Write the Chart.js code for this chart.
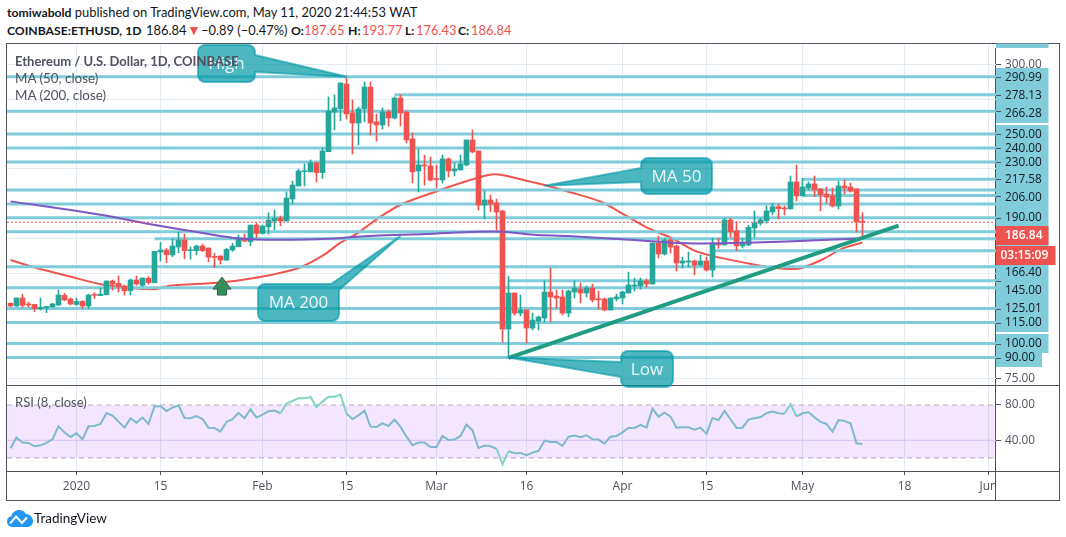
<!DOCTYPE html>
<html>
<head>
<meta charset="utf-8">
<title>ETHUSD</title>
<script src="https://cdn.jsdelivr.net/npm/chart.js@4"></script>
<style>
  html, body { margin: 0; padding: 0; background: #fff; width: 1066px; height: 537px; overflow: hidden; }
  body { position: relative; font-family: Lato, sans-serif; color: #50535e; }
  canvas { position: absolute; left: 0; }
  #rsiChart { top: 385px; }
  #priceChart { top: 0; }
  .t { position: absolute; white-space: nowrap; line-height: 16px; }
  .hd { font-size: 12.9px; color: #131722; }
  .hd b { font-size: 12.2px; }
  .red { color: #ef5350; }
  .line { position: absolute; background: #50535e; }
</style>
</head>
<body>
<div class="line" style="left:6px;top:43px;width:1054px;height:1px"></div>
<div class="line" style="left:6px;top:500px;width:1054px;height:1px"></div>
<div class="line" style="left:6px;top:43px;width:1px;height:458px"></div>
<div class="line" style="left:1059px;top:43px;width:1px;height:458px"></div>
<div class="line" style="left:995px;top:48px;width:1px;height:452px"></div>
<div class="line" style="left:6px;top:385px;width:1054px;height:1px"></div>
<div class="line" style="left:6px;top:471px;width:1054px;height:1px"></div>

<div class="t hd" style="left:7px;top:4px"><b>tomiwabold</b> published on TradingView.com, May 11, 2020 21:44:53 WAT</div>
<div class="t hd" style="left:7px;top:22px"><b>COINBASE:ETHUSD, 1D</b></div>
<div class="t hd" style="left:146px;top:22px">186.84</div>
<div class="t hd red" style="left:187px;top:22px;font-size:14px">▼</div>
<div class="t hd" style="left:201px;top:22px">−0.89 (−0.47%)</div>
<div class="t hd" style="left:291px;top:22px"><b>O:</b></div>
<div class="t hd red" style="left:304px;top:22px">187.65</div>
<div class="t hd" style="left:348px;top:22px"><b>H:</b></div>
<div class="t hd red" style="left:362px;top:22px">193.77</div>
<div class="t hd" style="left:405px;top:22px"><b>L:</b></div>
<div class="t hd red" style="left:416px;top:22px">176.43</div>
<div class="t hd" style="left:458px;top:22px"><b>C:</b></div>
<div class="t hd red" style="left:471px;top:22px">186.84</div>

<canvas id="rsiChart" width="1066" height="115"></canvas>
<canvas id="priceChart" width="1066" height="390"></canvas>

<div class="t" style="left:15px;top:53px;font-size:13px;font-weight:700">Ethereum / U.S. Dollar, 1D, COINBASE</div>
<div class="t" style="left:15px;top:70px;font-size:13.4px">MA (50, close)</div>
<div class="t" style="left:15px;top:87px;font-size:13.4px">MA (200, close)</div>
<div class="t" style="left:15px;top:394px;font-size:13px">RSI (8, close)</div>

<svg style="position:absolute;left:7px;top:510px" width="26" height="17" viewBox="0 0 26 17">
  <path d="M6 17 C2 17 0 14.5 0 11.5 C0 8.5 2 6.5 4.5 6 C5.5 2.5 8.5 0 12 0 C15 0 17.5 1.5 19 4 C23 4 26 7.5 26 11 C26 14.5 23.5 17 20 17 Z" fill="#2196f3"/>
  <path d="M3 13.5 L9 6.5 L15 13 L20 7.5" fill="none" stroke="#fff" stroke-width="2"/>
</svg>
<div class="t" style="left:34px;top:510px;font-size:13.5px;color:#131722">TradingView</div>

<script>
const xTickIndex = [11, 25, 42, 56, 71, 86, 102, 116, 132, 149, 163];
const xTickLabels = ['2020', '15', 'Feb', '15', 'Mar', '16', 'Apr', '15', 'May', '18', 'Jun'];

const open = [128.8,126.9,132.6,128.0,128.0,125.0,125.7,126.4,127.6,134.5,
  131.9,128.0,130.2,126.9,134.7,134.3,134.9,144.8,143.1,141.2,
  137.8,145.5,141.7,146.7,143.6,165.5,167.0,163.4,169.1,174.1,
  166.5,166.5,169.8,168.4,162.2,162.7,159.8,167.0,169.3,175.3,
  172.9,184.8,178.9,183.6,187.7,189.8,187.7,203.5,212.8,223.1,
  222.9,229.3,222.4,237.4,265.8,268.2,285.9,265.1,257.9,268.0,
  283.7,258.7,256.5,265.8,261.5,275.8,265.8,246.5,223.6,227.9,
  227.2,217.8,217.1,232.2,223.6,224.3,227.9,245.8,237.9,199.2,
  202.8,200.7,194.9,110.4,136.2,121.8,124.0,111.1,116.1,118.3,
  136.9,134.0,133.3,121.8,136.9,139.0,136.2,139.7,131.9,131.9,
  124.0,131.9,132.6,136.2,141.2,141.2,144.8,142.6,172.0,164.1,
  174.1,169.8,157.6,158.4,159.1,156.2,159.1,152.6,171.3,170.6,
  188.5,180.6,169.9,170.6,182.7,186.1,188.0,194.2,198.0,196.8,
  196.4,215.7,205.7,211.4,214.3,210.7,207.1,205.7,198.5,212.8,
  212.1,210.7,187.65];
const high = [129.2,132.8,135.4,129.7,128.0,132.6,126.6,128.8,138.3,135.9,
  132.6,132.6,130.7,135.4,136.4,139.7,144.8,145.5,148.3,141.9,
  146.2,148.3,146.9,147.9,166.0,172.4,168.1,174.8,179.8,178.4,
  169.3,170.5,171.3,168.4,164.6,162.7,168.1,171.7,177.7,178.4,
  184.8,186.0,184.8,193.7,195.6,191.3,208.5,216.4,225.0,228.6,
  231.5,230.0,240.0,276.6,278.0,286.6,290.2,274.4,269.4,287.3,
  287.3,264.4,268.7,267.3,276.6,278.0,266.5,250.8,239.3,235.0,
  233.6,227.9,235.0,232.9,229.3,235.0,245.8,252.9,237.9,209.2,
  206.4,203.5,195.6,148.3,136.2,134.7,124.0,121.8,119.7,144.8,
  154.0,138.3,138.3,138.3,144.8,143.3,141.2,142.6,137.6,132.6,
  132.6,135.4,137.6,151.2,146.9,146.9,146.2,172.0,177.0,175.3,
  175.5,170.5,161.9,165.5,159.8,163.4,161.9,175.5,175.3,189.7,
  189.7,187.3,175.3,184.7,194.9,189.9,198.5,200.4,199.9,198.5,
  220.0,227.9,218.3,215.7,220.0,211.1,212.1,211.4,216.4,217.1,
  214.9,210.7,193.77];
const low = [126.4,126.6,126.1,126.1,122.8,124.0,122.1,125.9,127.1,130.7,
  127.6,127.3,125.2,125.2,132.3,134.3,134.9,138.3,136.9,134.7,
  134.7,141.7,140.7,142.6,143.6,159.1,157.9,162.2,165.0,160.7,
  160.5,163.4,165.8,158.6,154.5,156.9,159.3,166.0,169.3,172.9,
  170.0,175.8,178.4,178.4,181.3,184.4,187.7,199.9,212.8,212.8,
  222.9,215.7,218.1,237.4,252.9,259.6,260.8,235.7,242.2,258.7,
  249.3,245.0,253.6,255.8,260.8,255.8,243.6,215.0,208.5,213.5,
  216.4,211.4,215.0,219.3,220.0,224.3,227.2,236.5,195.6,189.2,
  194.4,181.3,101.1,89.9,120.4,119.7,100.4,109.7,109.7,115.4,
  115.4,125.4,120.4,119.0,132.6,129.0,133.3,129.7,124.7,123.3,
  124.0,130.4,128.3,136.2,137.6,139.0,140.5,142.6,161.2,163.4,
  164.8,151.9,154.1,154.8,149.1,155.5,151.9,147.6,168.2,170.6,
  176.1,166.5,168.4,170.1,176.0,184.9,186.1,192.1,189.2,192.1,
  196.4,202.1,205.7,210.0,205.2,194.9,200.6,197.8,196.4,207.1,
  208.5,179.9,176.43];
const close = [126.9,132.6,127.3,127.6,125.0,125.9,126.6,128.3,134.7,131.2,
  128.3,130.2,126.9,134.7,134.5,135.4,144.8,142.6,140.5,137.8,
  145.5,142.6,146.9,143.6,166.0,167.0,163.6,169.8,174.1,166.5,
  167.0,169.8,166.5,161.9,161.7,159.8,167.4,169.8,175.8,173.4,
  184.8,178.9,184.1,188.4,189.8,187.7,204.2,213.5,223.6,223.6,
  229.3,222.4,237.9,266.5,268.7,286.6,264.4,257.9,268.0,283.7,
  257.9,256.5,265.8,261.5,275.8,265.1,245.8,222.9,227.9,227.2,
  217.1,217.4,232.2,223.6,225.0,228.6,245.8,237.2,199.2,202.8,
  199.9,194.2,110.4,136.2,121.8,124.0,111.1,116.8,119.0,136.9,
  133.3,132.6,121.8,137.6,139.7,136.2,139.7,131.2,131.4,124.0,
  132.6,133.3,136.9,141.9,141.9,144.8,142.6,172.0,164.1,174.1,
  169.1,157.6,159.1,158.8,156.2,159.1,152.6,172.0,170.6,188.5,
  180.1,169.9,171.8,183.2,186.3,188.5,194.9,198.0,196.6,196.4,
  215.7,205.7,212.1,214.3,210.0,206.4,204.9,198.5,212.8,211.4,
  209.2,187.0,186.84];

const ma50Index = [0,4.2,9.6,15.3,23.8,26.6,34.5,39,43.6,48.1,52.1,55,57.8,60.6,64.9,70.8,77.6,80.9,87.1,89,93,98.4,102.4,106.4,110.3,113.8,117.1,123.5,126.8,131.3,135.3,138.7,142];
const ma50Value = [159.8,154.3,148.3,142.3,138.8,141.4,143.5,145.9,149.3,154.3,163.1,172.2,178.9,187.7,199.2,208.7,218.3,221.2,215.4,213.5,208.7,201.5,192,182.4,175.3,166.9,162.6,156.9,154.5,153.6,160.2,168.1,172.4];
const ma200Index = [0,15.3,22.6,32.3,38,45.3,52.1,60.6,69.1,77.6,82.1,87.1,92.8,101.3,109.8,115.4,124,132.5,142];
const ma200Value = [201.8,192,186,178.9,175.3,174.3,174.8,177.2,178.4,180.1,180.1,177.9,177,174.8,172.4,171.7,172.4,173.6,175.3];

// drawn levels, fullLevels run across the whole pane
const fullLevels = [290.99,266.28,250,240,230,210,200,190,180,155,140,125.01,115,100,90];
const partLevels = [278.13,217.58,206,175,166.4,145];
const partStart = [64,132,132,24,117,83];
const trendIndex = [83,148];
const trendValue = [89.8,184.4];
const lastPrice = 186.84;

const priceTicks = [300,290.99,278.13,266.28,250,240,230,217.58,206,190,166.4,145,125.01,115,100,90,75];
const priceLabels = ['300.00','290.99','278.13','266.28','250.00','240.00','230.00','217.58','206.00','190.00','166.40','145.00','125.01','115.00','100.00','90.00','75.00'];
const priceLabelShift = [0,0.5,0.5,2,0.5,0.5,0.5,0.5,1.7,0,21.8,9.5,0,0,0,0,0];

const rsi = [30.9,43,37.4,37,33.2,34.3,37,41.1,55.8,49,
  43.8,47.9,41.1,55.8,56.2,58.5,70.9,67.9,61.1,54.3,
  64.9,60,65.7,58.5,78.5,78.5,73.2,77,79.6,65.3,
  64.9,67.5,64.1,54.3,54,49.8,60.8,63.8,70.9,64.9,
  75.1,65.7,69.1,72.8,73.6,70.6,81.5,84.5,87.5,87.5,
  89.1,77.4,83.8,89.4,89.4,91.7,70.2,64.1,68.3,73.6,
  55.5,55.1,59.2,56.2,63.4,55.1,44.1,34.3,37.4,37.4,
  32.4,32.4,44.9,40.4,40.8,44.9,57.7,51.3,31.3,34,
  33.2,30.6,12.8,27.5,25.3,25.7,23,26,27.9,39.6,
  38.1,38.1,33.6,44.1,45.3,43.4,45.7,41.1,40.8,36.2,
  44.1,44.9,49,54,54,57.4,54.3,75.8,66.8,71.3,
  66.8,54.3,54.7,54.7,52.1,54.3,47.2,65.3,63,73.2,
  63.8,54,54.3,63.4,64.9,66.4,70.6,72.5,70.6,70.2,
  80.8,67.2,70.6,71.7,66,60.8,58.5,49.8,63,61.9,
  59.2,36.6,35.8];
const rsiTicks = [80,40];
const rsiLabels = ['80.00','40.00'];

const UP = '#26a69a';
const DOWN = '#ef5350';
const CYAN = 'rgb(128,204,219)';
const GRID = 'rgb(225,236,243)';
const X_MIN = -0.583;
const X_MAX = 164.25;
const FONT = '"Open Sans", sans-serif';

const indexes = close.map((c, i) => i);
const candleColors = close.map((c, i) => c >= open[i] ? UP : DOWN);
const levelLine = (level, start) => ({
  type: 'line', order: 5, borderColor: CYAN, borderWidth: 3, pointRadius: 0,
  data: [{x: start, y: level}, {x: X_MAX, y: level}]
});
const xScale = (extra) => Object.assign({
  type: 'linear', min: X_MIN, max: X_MAX, offset: false,
  afterBuildTicks: s => { s.ticks = xTickIndex.map(v => ({value: v})); },
  border: {display: false}
}, extra);

// text boxes with a tail pointing at a value on the chart
const callouts = [
  {text: 'High', box: [198, 45, 255, 82], tail: {side: 'right', from: 55, to: 72}, tip: [56.1, 291]},
  {text: 'MA 50', box: [641, 158, 712, 194], tail: {side: 'left', from: 168, to: 182}, tip: [89, 213]},
  {text: 'MA 200', box: [258, 284, 339, 321], tail: {side: 'corner', from: 331, to: 290}, tip: [65, 177]},
  {text: 'Low', box: [621, 351, 673, 387], tail: {side: 'left', from: 362, to: 377}, tip: [83, 90]}
];

function calloutPath(ctx, c, tx, ty) {
  const [l, t, r, b] = c.box;
  const rad = 7;
  const pts = [[l, t, rad]];
  if (c.tail.side === 'corner') {
    pts.push([c.tail.from, t, 0], [tx, ty, 0], [r, c.tail.to, 0]);
  } else {
    pts.push([r, t, rad]);
  }
  if (c.tail.side === 'right') pts.push([r, c.tail.from, 0], [tx, ty, 0], [r, c.tail.to, 0]);
  pts.push([r, b, rad], [l, b, rad]);
  if (c.tail.side === 'left') pts.push([l, c.tail.to, 0], [tx, ty, 0], [l, c.tail.from, 0]);
  ctx.beginPath();
  ctx.moveTo(l, t + rad);
  pts.forEach((p, i) => {
    const next = pts[(i + 1) % pts.length];
    if (p[2]) ctx.arcTo(p[0], p[1], next[0], next[1], p[2]);
    else ctx.lineTo(p[0], p[1]);
  });
  ctx.closePath();
}

const priceExtras = {
  id: 'priceExtras',
  afterDraw(chart) {
    const ctx = chart.ctx;
    const xs = chart.scales.x;
    const ys = chart.scales.y;
    ctx.save();

    // up arrow
    const ax = xs.getPixelForValue(35.25);
    const ay = ys.getPixelForValue(147.6);
    ctx.beginPath();
    ctx.moveTo(ax, ay);
    ctx.lineTo(ax + 9, ay + 12);
    ctx.lineTo(ax + 4.5, ay + 12);
    ctx.lineTo(ax + 4.5, ay + 18);
    ctx.lineTo(ax - 4.5, ay + 18);
    ctx.lineTo(ax - 4.5, ay + 12);
    ctx.lineTo(ax - 9, ay + 12);
    ctx.closePath();
    ctx.fillStyle = '#388e5a';
    ctx.fill();
    ctx.strokeStyle = '#2e6248';
    ctx.lineWidth = 1;
    ctx.stroke();

    // label backgrounds on the price axis
    ctx.fillStyle = CYAN;
    ctx.fillRect(996, 43.5, 52.5, 4.5);
    ctx.fillRect(996, 68, 52.5, 55);
    ctx.fillRect(996, 125, 52.5, 207);
    ctx.fillRect(996, 334, 52.5, 19);
    ctx.fillRect(996, 353, 46, 14);

    ctx.font = '11.8px ' + FONT;
    ctx.textBaseline = 'middle';
    ctx.textAlign = 'left';
    priceTicks.forEach((v, i) => {
      const y = ys.getPixelForValue(v);
      ctx.strokeStyle = '#50535e';
      ctx.beginPath();
      ctx.moveTo(996, Math.round(y) + 0.5);
      ctx.lineTo(1001, Math.round(y) + 0.5);
      ctx.stroke();
      ctx.fillStyle = (v === 300 || v === 75) ? '#50535e' : '#131722';
      ctx.fillText(priceLabels[i], 1005, y + priceLabelShift[i]);
    });

    // last price and countdown tags
    ctx.fillStyle = DOWN;
    ctx.fillRect(996, 226, 52.5, 19);
    ctx.fillRect(996, 246, 59.5, 19);
    ctx.fillStyle = '#fff';
    ctx.font = '600 12px ' + FONT;
    ctx.fillText(lastPrice.toFixed(2), 1005, 236);
    ctx.fillText('03:15:09', 1000.5, 256);

    callouts.forEach(c => {
      const tx = xs.getPixelForValue(c.tip[0]);
      const ty = ys.getPixelForValue(c.tip[1]);
      calloutPath(ctx, c, tx, ty);
      ctx.fillStyle = 'rgba(0,151,167,0.7)';
      ctx.fill();
      ctx.strokeStyle = 'rgba(0,151,167,0.6)';
      ctx.lineWidth = 2;
      ctx.stroke();
      ctx.fillStyle = 'rgba(255,255,255,0.88)';
      ctx.font = '17px ' + FONT;
      ctx.textAlign = 'center';
      ctx.fillText(c.text, (c.box[0] + c.box[2]) / 2, (c.box[1] + c.box[3]) / 2 + 1);
    });
    ctx.restore();
  }
};

new Chart(document.getElementById('priceChart'), {
  type: 'bar',
  plugins: [priceExtras],
  data: {
    datasets: [
      {type: 'line', order: 6, borderColor: '#f0564f', borderWidth: 2, pointRadius: 0, tension: 0.3,
        data: ma50Index.map((x, i) => ({x: x, y: ma50Value[i]}))},
      ...fullLevels.map(v => levelLine(v, X_MIN)),
      ...partLevels.map((v, i) => levelLine(v, partStart[i])),
      {type: 'bar', order: 4, barThickness: 1, grouped: false, backgroundColor: candleColors,
        data: indexes.map(i => ({x: i, y: [low[i], high[i]]}))},
      {type: 'bar', order: 3, barThickness: 5, grouped: false, minBarLength: 1, backgroundColor: candleColors,
        data: indexes.map(i => ({x: i, y: [open[i], close[i]]}))},
      {type: 'line', order: 2, borderColor: DOWN, borderWidth: 1, borderDash: [2, 2], pointRadius: 0,
        data: [{x: X_MIN, y: lastPrice}, {x: X_MAX, y: lastPrice}]},
      {type: 'line', order: 2, borderColor: '#7e57c2', borderWidth: 2, pointRadius: 0, tension: 0.3,
        data: ma200Index.map((x, i) => ({x: x, y: ma200Value[i]}))},
      {type: 'line', order: 1, borderColor: '#1f9c82', borderWidth: 4, pointRadius: 0,
        data: trendIndex.map((x, i) => ({x: x, y: trendValue[i]}))}
    ]
  },
  options: {
    responsive: false,
    animation: false,
    events: [],
    layout: {padding: {left: 7, top: 44, right: 70, bottom: 5}},
    plugins: {legend: {display: false}, tooltip: {enabled: false}},
    scales: {
      x: xScale({grid: {color: GRID, drawTicks: false, offset: false}, ticks: {display: false}}),
      y: {
        position: 'right', min: 70.31, max: 314.49,
        grid: {color: GRID, drawTicks: false},
        border: {display: false},
        ticks: {display: false, stepSize: 25, includeBounds: false}
      }
    }
  }
});

const flatLine = (level, color, dash, fill) => ({
  borderColor: color, borderWidth: 1, borderDash: dash, pointRadius: 0, order: 3, fill: fill,
  backgroundColor: 'rgba(153,51,245,0.12)',
  data: [{x: X_MIN, y: level}, {x: X_MAX, y: level}]
});

new Chart(document.getElementById('rsiChart'), {
  type: 'line',
  data: {
    datasets: [
      flatLine(80, '#b5b0b8', [5, 4], '+1'),
      flatLine(20, '#b5b0b8', [5, 4], false),
      flatLine(40, 'rgb(221,211,240)', [], false),
      {
        order: 1, borderColor: '#7fb8cc', borderWidth: 2, pointRadius: 0, fill: false,
        data: rsi.map((v, i) => ({x: i, y: v})),
        segment: {
          borderColor: c => (c.p0.parsed.y > 80 || c.p1.parsed.y > 80 || c.p0.parsed.y < 20 || c.p1.parsed.y < 20) ? '#7fd3c2' : '#7fb8cc'
        }
      }
    ]
  },
  options: {
    responsive: false,
    animation: false,
    events: [],
    layout: {padding: {left: 7, top: 1, right: 0, bottom: 0}},
    plugins: {legend: {display: false}, tooltip: {enabled: false}, filler: {propagate: false}},
    scales: {
      x: xScale({
        afterFit: s => { s.height = 29; s.paddingLeft = 0; s.paddingRight = 0; },
        grid: {color: GRID, tickColor: '#50535e', tickLength: 4},
        ticks: {
          autoSkip: false, maxRotation: 0, padding: 4,
          color: '#50535e', font: {family: FONT, size: 12},
          callback: (v, i) => xTickLabels[i]
        }
      }),
      y: {
        position: 'right', min: 5.2, max: 101.5,
        afterBuildTicks: s => { s.ticks = rsiTicks.map(v => ({value: v})); },
        afterFit: s => { s.width = 70; s.paddingTop = 0; s.paddingBottom = 0; },
        border: {display: false},
        grid: {drawOnChartArea: false, tickColor: '#50535e', tickLength: 5},
        ticks: {padding: 4, color: '#50535e', font: {family: FONT, size: 11.8}, callback: (v, i) => rsiLabels[i]}
      }
    }
  },
  plugins: [{
    id: 'clipJun',
    afterDraw(chart) {
      // the last date label is cut off by the price axis column
      const ctx = chart.ctx;
      ctx.clearRect(996, 87, 63, 27);
    }
  }]
});
</script>
</body>
</html>
